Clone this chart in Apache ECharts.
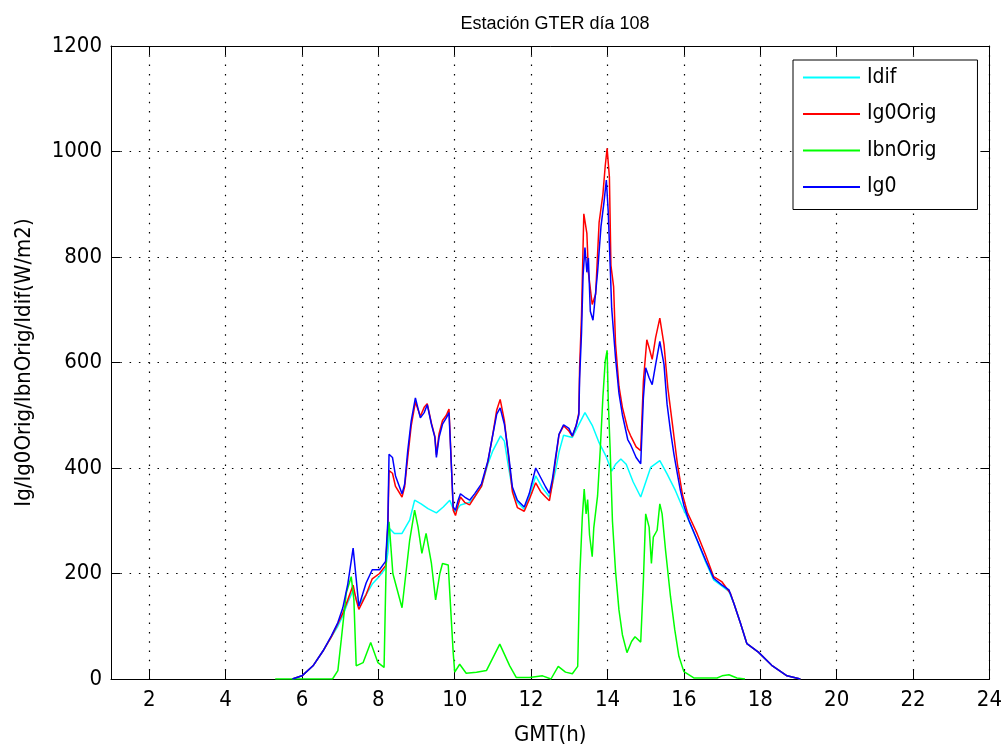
<!DOCTYPE html>
<html>
<head>
<meta charset="utf-8">
<script src="https://cdn.jsdelivr.net/npm/echarts@6/dist/echarts.min.js"></script>
<style>
html,body{margin:0;padding:0;background:#fff;}
#chart{width:1005px;height:751px;}
</style>
</head>
<body>
<div id="chart"></div>
<script>
// ---- data (hours GMT, W/m2) ----
const xTicks = [2,4,6,8,10,12,14,16,18,20,22,24];
const yTicks = [0,200,400,600,800,1000,1200];
const seriesNames = ['Idif','Ig0Orig','IbnOrig','Ig0'];

const tIdif = [5.75,6.0,6.29,6.55,6.77,6.94,7.07,7.2,7.34,7.49,7.68,7.84,8.03,8.19,8.25,8.3,8.42,8.62,8.82,8.95,9.12,9.3,9.52,9.7,9.87,9.96,10.02,10.15,10.39,10.52,10.7,10.87,11.0,11.2,11.3,11.41,11.51,11.64,11.82,11.95,12.12,12.3,12.48,12.56,12.64,12.73,12.85,13.08,13.22,13.41,13.6,13.78,13.97,14.11,14.21,14.35,14.49,14.67,14.87,15.13,15.37,15.56,15.78,15.96,16.13,16.35,16.57,16.78,17.0,17.18,17.31,17.48,17.65,17.95,18.3,18.7,19.05];
const idif = [0,6,25,53,80,100,120,145,168,140,160,180,195,210,240,285,276,276,301,339,332,323,315,326,339,323,317,330,335,345,365,408,433,461,451,401,360,335,322,345,385,362,345,370,395,430,462,458,478,505,481,448,421,394,407,417,407,374,345,401,414,389,357,326,300,262,222,188,176,166,143,106,67,51,26,6,0];

const tIg0Orig = [5.75,6.0,6.29,6.55,6.77,6.94,7.07,7.2,7.34,7.42,7.49,7.68,7.84,8.03,8.19,8.25,8.28,8.37,8.45,8.62,8.69,8.77,8.86,8.97,9.1,9.2,9.28,9.39,9.48,9.52,9.59,9.68,9.78,9.85,9.91,9.96,10.02,10.09,10.15,10.26,10.39,10.52,10.7,10.87,11.0,11.1,11.19,11.3,11.41,11.51,11.64,11.82,11.95,12.12,12.25,12.38,12.48,12.56,12.64,12.73,12.85,12.99,13.08,13.18,13.25,13.27,13.32,13.38,13.46,13.5,13.6,13.69,13.78,13.88,13.94,13.99,14.05,14.09,14.16,14.21,14.3,14.39,14.53,14.6,14.75,14.87,14.94,15.03,15.09,15.17,15.26,15.37,15.48,15.58,15.7,15.83,15.96,16.09,16.35,16.57,16.78,17.0,17.22,17.31,17.48,17.65,17.95,18.3,18.7,19.05];
const ig0Orig = [0,6,25,53,80,105,125,150,178,150,132,160,190,200,215,290,395,390,365,345,365,420,480,525,498,515,522,485,460,425,465,490,500,512,410,320,310,330,345,335,330,345,365,412,465,510,530,490,420,355,325,318,340,372,355,345,338,372,415,463,480,470,460,480,505,590,690,882,845,771,710,730,865,919,972,1006,952,784,744,636,555,515,474,462,440,433,565,643,628,606,647,684,634,552,483,408,351,316,275,235,194,184,162,143,106,67,51,26,6,0];

const tIbnOrig = [5.3,6.8,6.94,7.03,7.16,7.29,7.36,7.42,7.6,7.8,7.99,8.15,8.21,8.28,8.38,8.62,8.82,8.95,9.04,9.14,9.25,9.39,9.5,9.61,9.68,9.83,9.91,9.96,10.0,10.13,10.3,10.57,10.83,11.18,11.44,11.61,11.96,12.3,12.52,12.71,12.9,13.08,13.22,13.27,13.34,13.39,13.44,13.48,13.53,13.6,13.64,13.74,13.81,13.88,13.94,13.99,14.02,14.07,14.13,14.21,14.3,14.39,14.51,14.63,14.72,14.87,14.94,15.0,15.09,15.15,15.2,15.3,15.37,15.43,15.52,15.65,15.76,15.87,16.0,16.26,16.87,17.0,17.18,17.39,17.6];
const ibnOrig = [0,0,16,75,163,194,150,25,31,69,31,22,238,298,200,135,263,320,288,238,276,219,150,200,219,216,113,50,13,28,11,13,16,66,25,3,3,6,0,24,13,10,24,188,306,360,313,340,273,232,286,347,434,535,602,623,528,434,299,205,131,84,50,71,80,70,187,313,288,219,269,282,332,313,244,156,94,43,14,2,2,6,8,2,0];

const tIg0 = [5.75,6.0,6.29,6.55,6.77,6.94,7.07,7.2,7.34,7.42,7.49,7.68,7.84,8.03,8.19,8.25,8.28,8.37,8.45,8.62,8.69,8.77,8.86,8.97,9.1,9.2,9.28,9.39,9.48,9.52,9.59,9.68,9.78,9.85,9.91,9.96,10.02,10.09,10.15,10.26,10.39,10.52,10.7,10.87,11.0,11.1,11.19,11.3,11.41,11.51,11.64,11.82,11.95,12.12,12.25,12.38,12.48,12.56,12.64,12.73,12.85,12.99,13.08,13.18,13.25,13.27,13.32,13.36,13.41,13.46,13.5,13.55,13.62,13.66,13.74,13.83,13.91,13.97,14.02,14.07,14.11,14.21,14.3,14.39,14.53,14.6,14.75,14.87,14.94,15.0,15.09,15.17,15.26,15.37,15.48,15.56,15.65,15.74,15.83,15.91,16.0,16.13,16.35,16.57,16.78,17.0,17.18,17.31,17.48,17.65,17.95,18.3,18.7,19.05];
const ig0 = [0,6,25,53,82,107,135,180,248,190,138,182,207,207,223,300,426,420,385,351,370,433,489,533,495,505,520,483,458,420,458,483,495,505,408,326,320,339,351,345,339,351,370,414,464,502,514,483,426,364,339,326,351,400,382,364,352,380,420,464,482,475,461,481,501,569,656,764,818,771,798,697,680,710,771,858,905,946,885,784,703,609,542,501,454,445,420,408,533,590,571,558,596,640,596,521,470,426,389,357,329,301,263,225,191,178,169,143,106,67,51,26,6,0];

const pair = (t, v) => t.map((x, i) => [x, v[i]]);

const FONT = "'DejaVu Sans Condensed', 'Liberation Sans', Arial, sans-serif";
const TFONT = "'Liberation Sans', Arial, sans-serif";
const dotted = {color:'#000', width:1.2, type:[1.5,7.8]};

const chart = echarts.init(document.getElementById('chart'), null, {renderer:'canvas'});
const mk = (name, data, color, z) => ({
  name, type:'line', data, symbol:'none', showSymbol:false, z,
  lineStyle:{color, width:1.5}, itemStyle:{color}, animation:false,
  xAxisIndex:0, yAxisIndex:0
});

chart.setOption({
  animation:false,
  backgroundColor:'#fff',
  title:{text:'Estación GTER día 108', left:550, top:10, textAlign:'center',
    textStyle:{fontFamily:TFONT, fontSize:18, fontWeight:'normal', color:'#000'}},
  grid:{left:111, right:14, top:46, bottom:67, show:false},
  legend:{
    data:seriesNames, orient:'vertical', left:793, top:60,
    padding:[7,41,12,10], itemWidth:57, itemHeight:2, itemGap:15.5,
    backgroundColor:'#fff', borderColor:'#000', borderWidth:1,
    textStyle:{fontFamily:FONT, fontSize:21, color:'#000', padding:[0,0,0,2]},
    icon:'rect'
  },
  xAxis:[{
    type:'value', min:1, max:24, position:'bottom',
    name:'GMT(h)', nameLocation:'middle', nameGap:45,
    nameTextStyle:{fontFamily:FONT, fontSize:22, color:'#000'},
    axisLine:{show:true, onZero:false, lineStyle:{color:'#000', width:1}},
    axisTick:{show:true, inside:true, length:9, customValues:xTicks, lineStyle:{color:'#000'}},
    axisLabel:{show:true, customValues:xTicks, margin:10, fontFamily:FONT, fontSize:22, color:'#000',
      formatter:v => String(v)},
    splitLine:{show:true, lineStyle:dotted}
  },{
    type:'value', min:1, max:24, position:'top',
    axisLine:{show:true, onZero:false, lineStyle:{color:'#000', width:1}},
    axisTick:{show:true, inside:true, length:9, customValues:xTicks, lineStyle:{color:'#000'}},
    axisLabel:{show:false}, splitLine:{show:false}
  }],
  yAxis:[{
    type:'value', min:0, max:1200, interval:200, position:'left',
    name:'Ig/Ig0Orig/IbnOrig/Idif(W/m2)', nameLocation:'middle', nameGap:76, nameRotate:90,
    nameTextStyle:{fontFamily:FONT, fontSize:22, color:'#000'},
    axisLine:{show:true, onZero:false, lineStyle:{color:'#000', width:1}},
    axisTick:{show:true, inside:true, length:9, lineStyle:{color:'#000'}},
    axisLabel:{show:true, margin:9, fontFamily:FONT, fontSize:22, color:'#000',
      formatter:v => String(v)},
    splitLine:{show:true, lineStyle:dotted}
  },{
    type:'value', min:0, max:1200, interval:200, position:'right',
    axisLine:{show:true, onZero:false, lineStyle:{color:'#000', width:1}},
    axisTick:{show:true, inside:true, length:9, lineStyle:{color:'#000'}},
    axisLabel:{show:false}, splitLine:{show:false}
  }],
  series:[
    mk('Idif', pair(tIdif, idif), '#00ffff', 2),
    mk('Ig0Orig', pair(tIg0Orig, ig0Orig), '#ff0000', 3),
    mk('IbnOrig', pair(tIbnOrig, ibnOrig), '#00ff00', 4),
    mk('Ig0', pair(tIg0, ig0), '#0000ff', 5)
  ]
});
</script>
</body>
</html>
